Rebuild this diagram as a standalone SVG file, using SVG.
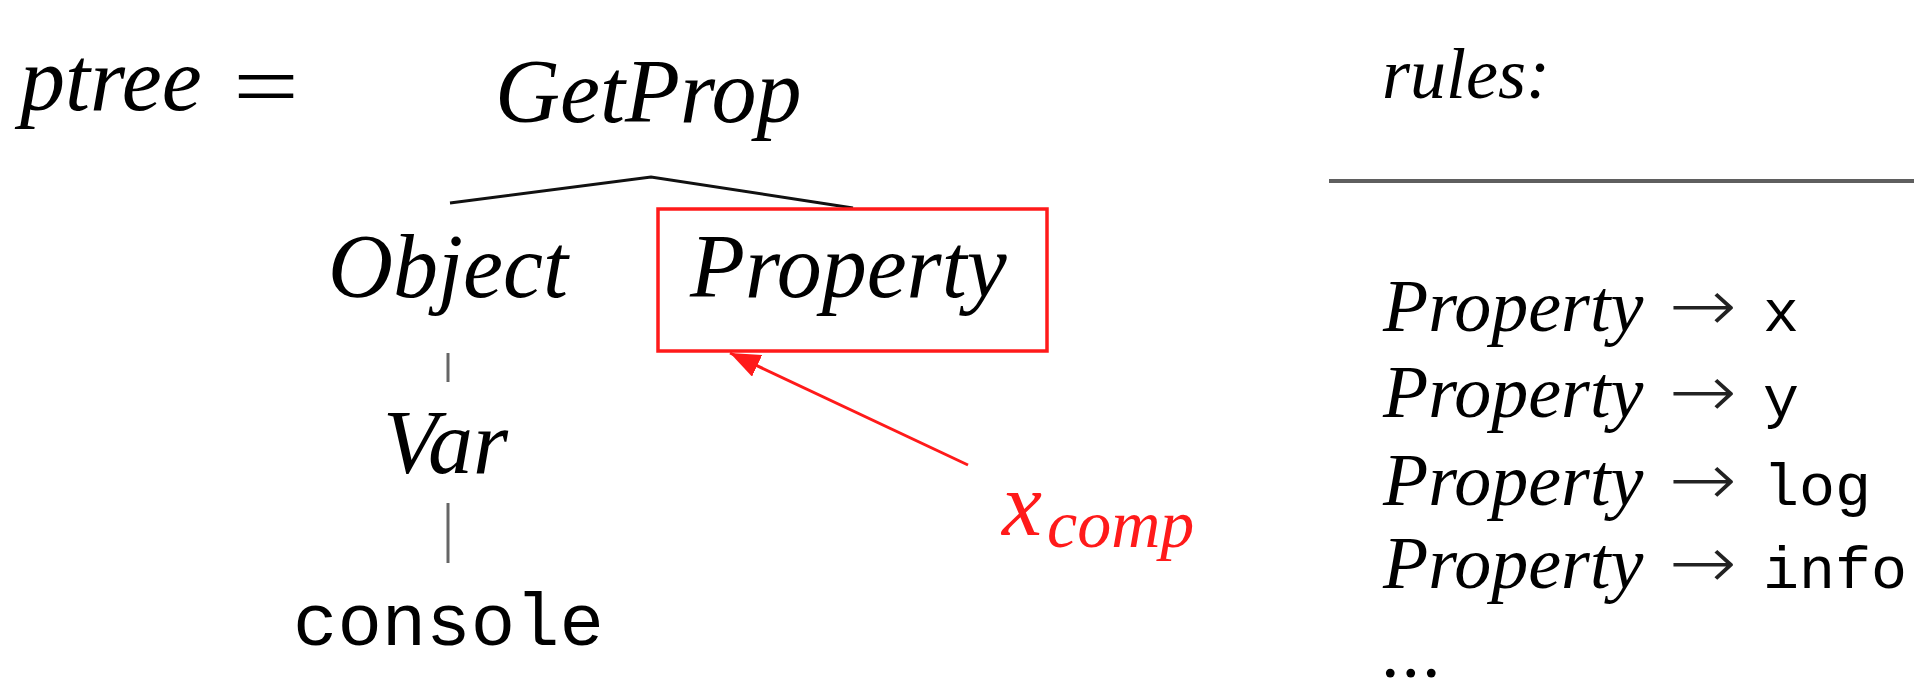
<svg xmlns="http://www.w3.org/2000/svg" width="1914" height="678" viewBox="0 0 1914 678">
  <style>
    .math { font-family: "Liberation Serif", "DejaVu Serif", serif; font-style: italic; fill: #000; }
    .rm { font-family: "Liberation Serif", "DejaVu Serif", serif; fill: #000; }
    .arrow { font-family: "DejaVu Sans", sans-serif; font-weight: 200; font-size: 74px; fill: #222; }
    .tt { font-family: "Liberation Mono", "DejaVu Sans Mono", monospace; fill: #000; }
    .big { font-size: 90px; }
    .small { font-size: 74px; }
    .edge { stroke: #111; stroke-width: 3; fill: none; stroke-linecap: butt; }
    .vedge { stroke: #666; stroke-width: 3; fill: none; }
    .red { fill: #ff1a1a; }
    .redline { stroke: #ff1a1a; stroke-width: 3; fill: none; }
  </style>
  <defs>
    <marker id="redHead" markerUnits="userSpaceOnUse" markerWidth="32" markerHeight="24" refX="30" refY="12" orient="auto">
      <path d="M0,0 L30,12 L0,24 z" fill="#ff1a1a"/>
    </marker>
  </defs>
  <rect width="1914" height="678" fill="#fff"/>

  <!-- left-hand side of the equation -->
  <g id="lhs">
    <text class="math big" x="20" y="110">ptree</text>
    <text class="rm big" x="233" y="117" textLength="66" lengthAdjust="spacingAndGlyphs">=</text>
  </g>

  <!-- parse tree edges -->
  <g id="edges">
    <polyline class="edge" points="450,203 651,177 853,208"/>
    <line class="vedge" x1="448" y1="353" x2="448" y2="382"/>
    <line class="vedge" x1="448" y1="503" x2="448" y2="563"/>
  </g>

  <g id="node-getprop">
    <text class="math big" x="495" y="122">GetProp</text>
  </g>
  <g id="node-object">
    <text class="math big" x="328" y="297">Object</text>
  </g>
  <g id="node-property">
    <rect x="658" y="209" width="389" height="142" fill="none" stroke="#ff1a1a" stroke-width="3.5"/>
    <text class="math big" x="690" y="297">Property</text>
  </g>
  <g id="node-var">
    <text class="math big" x="383" y="473">Var</text>
  </g>
  <g id="node-console">
    <text class="tt" font-size="74" x="293" y="645">console</text>
  </g>

  <!-- annotation pointing at the highlighted node -->
  <g id="xcomp">
    <line class="redline" x1="968" y1="465" x2="730" y2="353" marker-end="url(#redHead)"/>
    <text class="math red" font-size="90" x="1002" y="535">x</text>
    <text class="math red" font-size="68" x="1047" y="547">comp</text>
  </g>

  <!-- grammar rules -->
  <g id="rules">
    <text class="math" font-size="72" x="1382" y="98">rules:</text>
    <line x1="1329" y1="181" x2="1914" y2="181" stroke="#5f5f5f" stroke-width="4"/>
    <g class="rule">
      <text class="math small" x="1383" y="331">Property</text>
      <text class="arrow" x="1669" y="331" textLength="68" lengthAdjust="spacingAndGlyphs">→</text>
      <text class="tt" font-size="60" x="1763" y="331">x</text>
    </g>
    <g class="rule">
      <text class="math small" x="1383" y="417">Property</text>
      <text class="arrow" x="1669" y="417" textLength="68" lengthAdjust="spacingAndGlyphs">→</text>
      <text class="tt" font-size="60" x="1763" y="417">y</text>
    </g>
    <g class="rule">
      <text class="math small" x="1383" y="505">Property</text>
      <text class="arrow" x="1669" y="505" textLength="68" lengthAdjust="spacingAndGlyphs">→</text>
      <text class="tt" font-size="60" x="1763" y="505">log</text>
    </g>
    <g class="rule">
      <text class="math small" x="1383" y="588">Property</text>
      <text class="arrow" x="1669" y="588" textLength="68" lengthAdjust="spacingAndGlyphs">→</text>
      <text class="tt" font-size="60" x="1763" y="588">info</text>
    </g>
    <text class="rm small" x="1381" y="677" letter-spacing="2">...</text>
  </g>
</svg>
